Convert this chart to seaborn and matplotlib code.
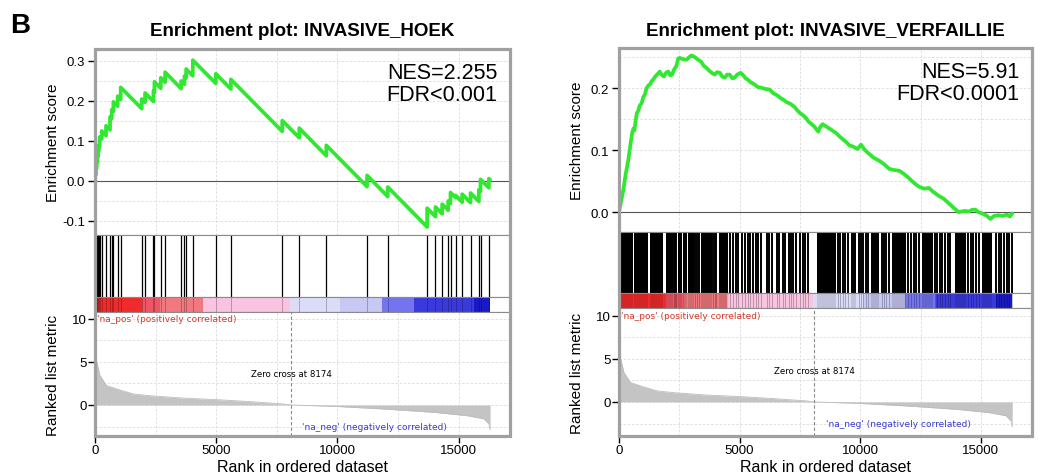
import numpy as np
import pandas as pd
import matplotlib
matplotlib.use('Agg')
import matplotlib.pyplot as plt
import seaborn as sns
from matplotlib.patches import Rectangle

# GSEA enrichment plots
N_GENES = 16300
ZERO_CROSS = 8100

# --- INVASIVE_HOEK: hit positions and running score just before / after each hit
hoek_hits = [10, 40, 70, 100, 130, 160, 190, 275, 455, 620, 690, 757, 936, 1060,
             1928, 2066, 2410, 2451, 2713, 2892, 3553, 3690, 3759, 4035, 4985, 5605,
             7725, 8427, 9543, 11223, 12077, 13702, 14046, 14321, 14569, 14666,
             14872, 15147, 15491, 15836, 15905, 16249]
hoek_es_before = [0.0, 0.016, 0.032, 0.048, 0.063, 0.076, 0.088, 0.105, 0.114, 0.128,
                  0.156, 0.174, 0.187, 0.204, 0.181, 0.197, 0.199, 0.222, 0.232, 0.247,
                  0.231, 0.242, 0.258, 0.263, 0.244, 0.230, 0.124, 0.108, 0.063, -0.014,
                  -0.039, -0.115, -0.089, -0.082, -0.073, -0.056, -0.041, -0.053, -0.054,
                  -0.051, -0.026, -0.017]
hoek_es_after = [0.018, 0.034, 0.050, 0.065, 0.078, 0.090, 0.110, 0.125, 0.138, 0.160,
                 0.178, 0.198, 0.212, 0.234, 0.205, 0.220, 0.225, 0.248, 0.258, 0.272,
                 0.250, 0.262, 0.280, 0.302, 0.268, 0.254, 0.151, 0.132, 0.089, 0.014,
                 -0.015, -0.068, -0.065, -0.058, -0.050, -0.029, -0.036, -0.033, -0.030,
                 -0.022, 0.004, 0.006]
hoek_es_end = 0.003

# --- INVASIVE_VERFAILLIE: running score
verf_rank = [0, 90, 180, 280, 385, 470, 550, 600, 640, 680, 740, 800, 860, 940, 1000,
             1075, 1140, 1210, 1300, 1360, 1420, 1500, 1580, 1690, 1760, 1860, 1950,
             2040, 2120, 2200, 2280, 2380, 2450, 2520, 2650, 2800, 2900, 3000, 3070,
             3150, 3280, 3400, 3520, 3620, 3750, 3880, 3970, 4060, 4180, 4280, 4380,
             4480, 4590, 4700, 4790, 4900, 5040, 5150, 5250, 5340, 5450, 5620, 5750,
             5890, 6050, 6240, 6400, 6580, 6700, 6800, 6930, 7100, 7270, 7400, 7500,
             7610, 7750, 7860, 7960, 8100, 8260, 8350, 8440, 8600, 8800, 8990, 9150,
             9300, 9450, 9540, 9700, 9890, 10030, 10200, 10370, 10550, 10790, 11000,
             11200, 11400, 11610, 11800, 11960, 12150, 12300, 12440, 12650, 12850,
             13050, 13270, 13450, 13680, 13900, 14090, 14300, 14500, 14650, 14780,
             14900, 15060, 15250, 15400, 15550, 15750, 15900, 16090, 16200, 16300]
verf_es = [0.0, 0.018, 0.036, 0.062, 0.084, 0.108, 0.129, 0.135, 0.132, 0.145, 0.160,
           0.164, 0.172, 0.176, 0.185, 0.190, 0.200, 0.204, 0.207, 0.212, 0.214, 0.219,
           0.222, 0.227, 0.222, 0.219, 0.225, 0.227, 0.221, 0.222, 0.230, 0.236, 0.248,
           0.249, 0.247, 0.246, 0.250, 0.253, 0.252, 0.250, 0.246, 0.243, 0.236, 0.233,
           0.228, 0.224, 0.222, 0.226, 0.225, 0.219, 0.217, 0.222, 0.222, 0.216, 0.217,
           0.222, 0.225, 0.221, 0.216, 0.214, 0.210, 0.206, 0.202, 0.201, 0.199, 0.198,
           0.192, 0.188, 0.184, 0.182, 0.178, 0.175, 0.170, 0.164, 0.160, 0.157, 0.152,
           0.146, 0.143, 0.138, 0.130, 0.138, 0.142, 0.138, 0.133, 0.128, 0.122, 0.117,
           0.112, 0.108, 0.106, 0.102, 0.109, 0.100, 0.094, 0.088, 0.083, 0.077, 0.070,
           0.068, 0.067, 0.062, 0.057, 0.050, 0.045, 0.041, 0.038, 0.039, 0.032, 0.026,
           0.022, 0.014, 0.006, 0.000, 0.002, 0.001, 0.004, 0.004, 0.000, -0.002,
           -0.006, -0.011, -0.006, -0.005, -0.006, -0.004, -0.007, -0.002]

# hits: dense black runs (start, end) and single lines
verf_block_start = [30, 620, 1270, 1960, 2430, 2650, 2850, 3400, 4130, 8200, 9600,
                    10430, 11320, 12560, 13940, 15040]
verf_block_end = [600, 1220, 1840, 2230, 2600, 2810, 3090, 3850, 4530, 9000, 9830,
                  10790, 11890, 13000, 14370, 15470]
verf_lines = [2272, 2327, 2382, 3167, 3236, 3319, 3897, 3966, 4035, 4613, 4723, 4833,
              4930, 5109, 5205, 5329, 5439, 5549, 5659, 5770, 5880, 6128, 6238, 6348,
              6541, 6651, 6789, 6899, 7036, 7133, 7229, 7339, 7505, 7615, 7725, 7835,
              9061, 9157, 9267, 9377, 9488, 9928, 10025, 10121, 10231, 10341, 10892,
              10988, 11085, 11195, 11994, 12104, 12214, 12324, 12434, 13095, 13192,
              13288, 13398, 13508, 13619, 13729, 14473, 14583, 14693, 14803, 14913,
              15629, 15739, 15849, 15959, 16069, 16179, 16289]

# ranked list metric (same ranked list for both)
metric_rank = [0, 69, 207, 480, 895, 1580, 2270, 3650, 5030, 6400, 7780, 8100, 9850,
               11900, 13980, 15350, 16040, 16250, 16300]
metric_val = [6.3, 5.0, 3.4, 2.25, 1.86, 1.28, 1.08, 0.8, 0.62, 0.39, 0.12, 0.0, -0.15,
              -0.46, -0.85, -1.24, -1.6, -2.2, -2.9]

# heat bar of the ranked list
bar_edges = [0, 1930, 2690, 4460, 8060, 10100, 11840, 13150, 15630, 16300]
bar_colors = ['#f12b2b', '#ee5666', '#f0787f', '#f9c4e0', '#dcdcf8', '#c8c8f4',
              '#7474ee', '#3a3adc', '#1a1ac4']

titles = ['Enrichment plot: INVASIVE_HOEK', 'Enrichment plot: INVASIVE_VERFAILLIE']
stats = ['NES=2.255\nFDR<0.001', 'NES=5.91\nFDR<0.0001']

sns.set_style('white')
plt.rcParams['font.family'] = ['Liberation Sans', 'DejaVu Sans']
plt.rcParams['text.color'] = 'black'
plt.rcParams['axes.labelcolor'] = 'black'
plt.rcParams['xtick.color'] = 'black'
plt.rcParams['ytick.color'] = 'black'

W, H = 1045, 477
fig = plt.figure(figsize=(W / 100, H / 100), dpi=100)


def box(x0, y0, x1, y1):
    return [x0 / W, 1 - y1 / H, (x1 - x0) / W, (y1 - y0) / H]


def grid_dash(ax):
    ax.grid(True, which='both', color='#dadada', ls=(0, (3, 2)), lw=0.6)
    ax.set_axisbelow(True)


def draw_panel(px, title, es_x, es_y, es_lim, es_ticks, hit_x, blocks, rank_lim, stat,
               hit_lw):
    x0, x1, ytop, y_es, y_hit, y_cb, ybot = px
    xlim = (0, 17120)
    ax_es = fig.add_axes(box(x0, ytop, x1, y_es))
    ax_hit = fig.add_axes(box(x0, y_es, x1, y_hit))
    ax_cb = fig.add_axes(box(x0, y_hit, x1, y_cb))
    ax_rk = fig.add_axes(box(x0, y_cb, x1, ybot))

    for ax in (ax_es, ax_hit, ax_cb, ax_rk):
        ax.set_xlim(*xlim)
        for s in ax.spines.values():
            s.set_color('#8a8a8a')
            s.set_linewidth(0.8)

    # running enrichment score
    grid_dash(ax_es)
    ax_es.set_xticks(np.arange(0, 17500, 5000))
    ax_es.set_xticks(np.arange(2500, 17500, 5000), minor=True)
    ax_es.set_yticks(es_ticks)
    ax_es.set_yticks(np.arange(-0.15, 0.35, 0.05), minor=True)
    ax_es.set_ylim(*es_lim)
    ax_es.axhline(0, color='#555555', lw=0.8, zorder=1)
    sns.lineplot(x=es_x, y=es_y, estimator=None, sort=False, color='#30e830',
                 lw=2.7, ax=ax_es, zorder=3)
    ax_es.set_xticklabels([])
    ax_es.tick_params(axis='x', length=0)
    ax_es.tick_params(axis='y', which='major', left=True, direction='out', length=5,
                      width=1, color='black', labelsize=9.5, pad=2)
    ax_es.tick_params(axis='y', which='minor', length=0)
    ax_es.set_yticklabels(['%.1f' % t for t in es_ticks])
    ax_es.set_ylabel('Enrichment score', fontsize=11)
    ax_es.yaxis.set_label_coords(-0.085, 0.5)
    ax_es.set_xlabel('')
    ax_es.text(0.969, 0.93, stat, transform=ax_es.transAxes, ha='right', va='top',
               fontsize=15.5, linespacing=1.05)

    # hits
    ax_hit.set_ylim(0, 1)
    if blocks is not None:
        bs, be = blocks
        ax_hit.bar(bs, 1, width=np.array(be) - np.array(bs), align='edge',
                   color='black', lw=0)
    ax_hit.vlines(hit_x, 0, 1, color='black', lw=hit_lw)
    ax_hit.set_xticks([])
    ax_hit.set_yticks([])

    # heat bar
    ax_cb.set_ylim(0, 1)
    edges = np.array(bar_edges)
    ax_cb.bar(edges[:-1], 1, width=np.diff(edges), align='edge', color=bar_colors, lw=0)
    ax_cb.vlines(hit_x, 0, 1, color='black', lw=0.7, alpha=0.25)
    if blocks is not None:
        ax_cb.bar(bs, 1, width=np.array(be) - np.array(bs), align='edge',
                  color='black', alpha=0.12, lw=0)
    ax_cb.set_xticks([])
    ax_cb.set_yticks([])

    # ranked list metric
    grid_dash(ax_rk)
    ax_rk.set_xticks(np.arange(0, 17500, 5000))
    ax_rk.set_xticks(np.arange(2500, 17500, 5000), minor=True)
    ax_rk.set_yticks([0, 5, 10])
    ax_rk.set_yticks([-2.5, 2.5, 7.5], minor=True)
    ax_rk.set_ylim(*rank_lim)
    ax_rk.fill_between(metric_rank, metric_val, 0, color='#c4c4c4', lw=0, zorder=2)
    sns.lineplot(x=metric_rank, y=metric_val, estimator=None, sort=False,
                 color='#bdbdbd', lw=0.6, ax=ax_rk, zorder=2)
    ax_rk.axvline(ZERO_CROSS, color='#8a8a8a', ls=(0, (3, 2)), lw=0.8, zorder=2)
    ax_rk.tick_params(axis='both', which='major', left=True, bottom=True,
                      direction='out', length=5, width=1, color='black',
                      labelsize=9.5, pad=1)
    ax_rk.tick_params(axis='both', which='minor', length=0)
    ax_rk.set_ylabel('Ranked list metric', fontsize=11)
    ax_rk.yaxis.set_label_coords(-0.085, 0.5)
    ax_rk.set_xlabel('Rank in ordered dataset', fontsize=11.5, labelpad=2)
    ax_rk.text(70, 10, "'na_pos' (positively correlated)", color='#d43a2a',
               fontsize=6.5, va='center', family='DejaVu Sans')
    ax_rk.text(8560, -2.5, "'na_neg' (negatively correlated)", color='#3a3ad0',
               fontsize=6.5, va='center', family='DejaVu Sans')
    ax_rk.text(ZERO_CROSS, 3.6, 'Zero cross at 8174', color='black', fontsize=6.2,
               ha='center', va='center', family='DejaVu Sans')

    # outer frame
    fig.add_artist(Rectangle((x0 / W, 1 - ybot / H), (x1 - x0) / W, (ybot - ytop) / H,
                             transform=fig.transFigure, fill=False, ec='#a0a0a0',
                             lw=2.3, zorder=20))
    fig.text((x0 + x1) / 2 / W, 1 - 32 / H, title, ha='center', va='center',
             fontsize=13.5, fontweight='bold')


# build HOEK vertex path from hit values
hoek_x = [0]
hoek_y = [0.0]
for h, b, a in zip(hoek_hits, hoek_es_before, hoek_es_after):
    hoek_x += [h, h]
    hoek_y += [b, a]
hoek_x.append(N_GENES)
hoek_y.append(hoek_es_end)

draw_panel((95, 510, 50, 236, 298, 313, 437), titles[0], hoek_x, hoek_y,
           (-0.135, 0.33), [-0.1, 0.0, 0.1, 0.2, 0.3], hoek_hits, None, (-3.6, 10.8),
           stats[0], 0.9)
draw_panel((619, 1032, 49, 233, 294, 309, 437), titles[1], verf_rank, verf_es,
           (-0.032, 0.265), [0.0, 0.1, 0.2], verf_lines,
           (verf_block_start, verf_block_end), (-3.95, 10.9), stats[1], 1.4)

fig.text(10 / W, 1 - 26 / H, 'B', fontsize=20, fontweight='bold', va='center')

fig.savefig('out.png', dpi=100)
